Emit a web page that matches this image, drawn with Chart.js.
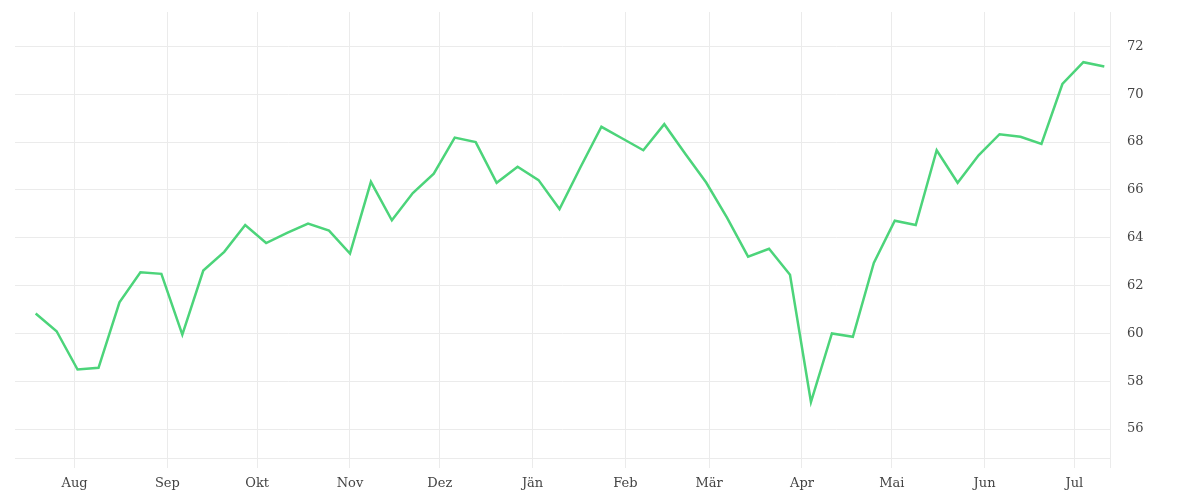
<!DOCTYPE html>
<html>
<head>
<meta charset="utf-8">
<script src="https://cdn.jsdelivr.net/npm/chart.js@4"></script>
<style>
  html, body { margin: 0; padding: 0; background: #fff; }
  #wrap { width: 1200px; height: 500px; }
</style>
</head>
<body>
<div id="wrap"><canvas id="chart"></canvas></div>
<script>
// weekly dates
var weeks = ['2018-07-19','2018-07-26','2018-08-02','2018-08-09','2018-08-16','2018-08-23','2018-08-30',
  '2018-09-06','2018-09-13','2018-09-20','2018-09-27','2018-10-04','2018-10-11','2018-10-18','2018-10-25',
  '2018-11-01','2018-11-08','2018-11-15','2018-11-22','2018-11-29','2018-12-06','2018-12-13','2018-12-20','2018-12-27',
  '2019-01-03','2019-01-10','2019-01-17','2019-01-24','2019-01-31','2019-02-07','2019-02-14','2019-02-21','2019-02-28',
  '2019-03-07','2019-03-14','2019-03-21','2019-03-28','2019-04-04','2019-04-11','2019-04-18','2019-04-25',
  '2019-05-02','2019-05-09','2019-05-16','2019-05-23','2019-05-30','2019-06-06','2019-06-13','2019-06-20','2019-06-27',
  '2019-07-04','2019-07-11'];

var values = [60.83, 60.09, 58.49, 58.56, 61.30, 62.56, 62.49,
  59.95, 62.63, 63.41, 64.53, 63.78, 64.20, 64.59, 64.30,
  63.34, 66.34, 64.73, 65.87, 66.68, 68.19, 68.00, 66.30, 66.97,
  66.41, 65.20, 66.95, 68.64, 68.15, 67.66, 68.75, 67.51, 66.31,
  64.83, 63.21, 63.54, 62.45, 57.13, 60.00, 59.86, 62.95,
  64.71, 64.53, 67.66, 66.30, 67.45, 68.33, 68.22, 67.92,
  70.43, 71.34, 71.16];

// month ticks
var monthDates = ['2018-08-01','2018-09-01','2018-10-01','2018-11-01','2018-12-01','2019-01-01',
  '2019-02-01','2019-03-01','2019-04-01','2019-05-01','2019-06-01','2019-07-01'];
var monthLabels = ['Aug','Sep','Okt','Nov','Dez','Jän','Feb','Mär','Apr','Mai','Jun','Jul'];

var yTicks = [56, 58, 60, 62, 64, 66, 68, 70, 72];

function day(s) {
  var p = s.split('-');
  return Date.UTC(+p[0], +p[1] - 1, +p[2]) / 86400000;
}

var xMin = day('2018-07-12') + 0.1;
var xMax = day('2019-07-12') + 0.9;
var monthDays = monthDates.map(day);

var points = weeks.map(function (w, i) { return { x: day(w), y: values[i] }; });

var font = { family: "'DejaVu Serif', serif", size: 13 };
var gridColor = '#ebebeb';

new Chart(document.getElementById('chart').getContext('2d'), {
  type: 'line',
  data: {
    datasets: [{
      data: points,
      borderColor: '#4cd47a',
      borderWidth: 2.5,
      pointRadius: 0,
      tension: 0,
      fill: false
    }]
  },
  options: {
    responsive: true,
    maintainAspectRatio: false,
    animation: false,
    layout: { padding: { left: 15, top: 12, right: 0, bottom: 0 } },
    plugins: {
      legend: { display: false },
      tooltip: { enabled: false }
    },
    scales: {
      x: {
        type: 'linear',
        min: xMin,
        max: xMax,
        afterBuildTicks: function (scale) {
          var t = monthDays.map(function (v) { return { value: v }; });
          t.push({ value: xMax });
          scale.ticks = t;
        },
        afterFit: function (scale) {
          scale.height = 42;
          scale.paddingLeft = 0;
          scale.paddingRight = 0;
        },
        grid: { color: gridColor, tickLength: 10, lineWidth: 1 },
        border: { display: true, color: gridColor },
        ticks: {
          autoSkip: false,
          maxRotation: 0,
          padding: 8,
          color: '#444',
          font: font,
          callback: function (v) {
            var i = monthDays.indexOf(v);
            return i >= 0 ? monthLabels[i] : '';
          }
        }
      },
      y: {
        position: 'right',
        min: 54.79,
        max: 73.44,
        afterBuildTicks: function (scale) {
          scale.ticks = yTicks.map(function (v) { return { value: v }; });
        },
        afterFit: function (scale) {
          scale.width = 90;
          scale.paddingTop = 0;
          scale.paddingBottom = 0;
        },
        grid: { color: gridColor, drawTicks: false },
        border: { display: true, color: gridColor },
        ticks: { padding: 17, color: '#444', font: font }
      }
    }
  }
});
</script>
</body>
</html>
